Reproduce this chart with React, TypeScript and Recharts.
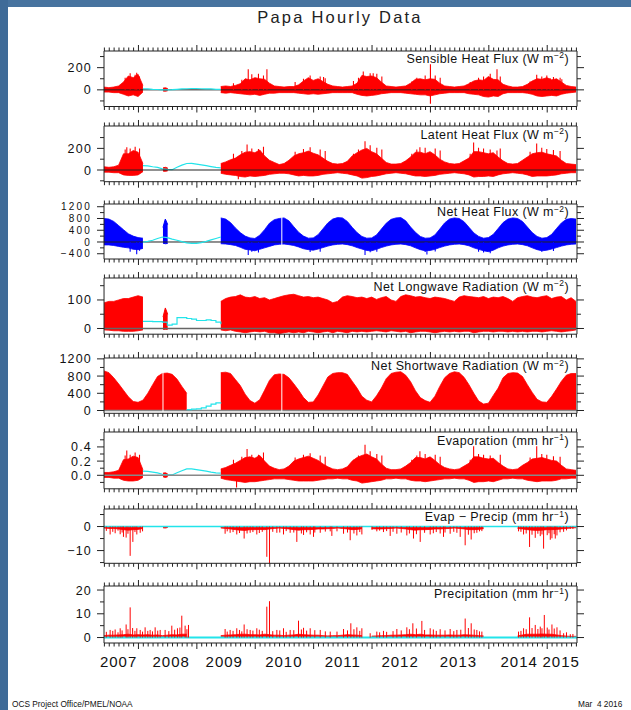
import React from 'react';
import { ComposedChart, Area, Line, XAxis, YAxis, ReferenceLine } from 'recharts';

const _ = null;

// one value per month, index 0 = June 2007
const START = 2007.41;
const END = 2015.51;
const FILL_FIRST = 8; // month index of the first cyan gap-fill value

const RED = '#ff0000';
const BLUE = '#0000ff';
const CYAN = '#22e4ea';
const INK = '#222';
const FONT = '"Liberation Sans", Arial, sans-serif';

const sensibleHi = [
  25, 20, 25, 35, 70, 125, 110,
  140, 40, _, _, _, _, _, _, _, _, _, _,
  _, _, _, _, _, 30, 35, 30, 40, 55, 100, 90,
  110, 100, 95, 60, 35, 30, 25, 30, 30, 45, 80, 110,
  85, 100, 75, 50, 35, 30, 25, 30, 35, 60, 130, 120,
  125, 110, 70, 35, 30, 25, 30, 35, 60, 95, 100, 90,
  100, 95, 60, 35, 30, 25, 30, 35, 55, 80, 90, 85,
  120, 95, 90, 50, 35, 25, 25, 30, 50, 80, 100, 95,
  110, 90, 100, 70, 40, 30, 25,
];
const sensibleLo = [
  -20, -20, -25, -25, -40, -55, -45,
  -60, -20, _, _, _, _, _, _, _, _, _, _,
  _, _, _, _, _, -25, -30, -25, -30, -35, -40, -45,
  -40, -50, -40, -30, -30, -25, -25, -25, -25, -30, -35, -40,
  -35, -40, -35, -30, -25, -25, -25, -25, -25, -40, -50, -55,
  -50, -45, -35, -30, -25, -25, -25, -30, -35, -40, -45, -45,
  -55, -45, -35, -30, -25, -25, -25, -25, -35, -40, -45, -60,
  -65, -55, -60, -35, -25, -25, -25, -25, -30, -40, -55, -60,
  -55, -50, -55, -40, -30, -25, -20,
];

const latentHi = [
  30, 25, 30, 45, 150, 150, 180,
  165, 60, _, _, _, _, _, _, _, _, _, _,
  _, _, _, _, _, 60, 75, 95, 110, 140, 165, 170,
  160, 185, 130, 90, 70, 50, 60, 90, 130, 150, 160, 175,
  155, 140, 110, 80, 60, 55, 60, 80, 130, 160, 185, 200,
  170, 150, 110, 70, 55, 55, 60, 85, 120, 165, 165, 150,
  170, 140, 100, 75, 60, 55, 60, 85, 110, 170, 170, 160,
  150, 160, 120, 85, 60, 55, 60, 90, 120, 150, 160, 165,
  150, 140, 130, 90, 60, 55, 50,
];
const latentLo = [
  -20, -20, -25, -25, -45, -50, -50,
  -45, -15, _, _, _, _, _, _, _, _, _, _,
  _, _, _, _, _, -30, -40, -45, -50, -60, -65, -55,
  -60, -55, -50, -40, -35, -30, -30, -35, -45, -55, -50, -55,
  -55, -50, -40, -35, -30, -25, -30, -35, -45, -55, -75, -70,
  -60, -55, -45, -35, -30, -25, -30, -35, -45, -55, -55, -60,
  -55, -50, -40, -35, -30, -25, -30, -35, -45, -65, -60, -60,
  -55, -60, -45, -35, -30, -25, -30, -35, -45, -60, -55, -55,
  -55, -50, -45, -35, -30, -25, -25,
];

const netHeatHi = [
  800, 780, 700, 560, 420, 280, 200,
  150, 130, _, _, _, _, _, _, _, _, _, _,
  _, _, _, _, _, 820, 780, 660, 480, 320, 200, 140,
  120, 230, 420, 640, 760, 800, 820, 720, 520, 330, 200, 130,
  140, 250, 450, 650, 780, 830, 820, 700, 500, 320, 190, 130,
  140, 240, 440, 640, 770, 820, 830, 720, 510, 330, 190, 130,
  140, 240, 440, 650, 780, 820, 800, 690, 500, 310, 190, 130,
  150, 260, 460, 660, 780, 820, 800, 700, 510, 320, 190, 130,
  150, 260, 460, 650, 770, 800, 780,
];
const netHeatLo = [
  -100, -100, -120, -150, -180, -200, -250,
  -260, -220, _, _, _, _, _, _, _, _, _, _,
  _, _, _, _, _, -60, -70, -90, -120, -180, -250, -270,
  -300, -250, -200, -150, -100, -80, -70, -90, -120, -170, -230, -260,
  -280, -240, -190, -140, -100, -80, -70, -90, -130, -190, -240, -290,
  -300, -250, -190, -140, -100, -80, -70, -90, -130, -200, -260, -300,
  -290, -250, -190, -140, -100, -80, -70, -90, -130, -200, -250, -300,
  -330, -280, -200, -140, -100, -80, -70, -90, -130, -200, -260, -300,
  -280, -240, -190, -140, -100, -80, -70,
];

const longwaveHi = [
  90, 95, 95, 100, 105, 105, 110,
  115, 110, _, _, _, _, _, _, _, _, _, _,
  _, _, _, _, _, 95, 105, 110, 112, 118, 110, 108,
  112, 105, 108, 100, 105, 110, 115, 118, 120, 115, 110, 112,
  108, 110, 105, 100, 90, 95, 110, 115, 112, 108, 110, 105,
  110, 102, 108, 112, 100, 95, 112, 118, 115, 110, 112, 108,
  105, 110, 108, 105, 100, 95, 110, 115, 112, 110, 108, 112,
  105, 110, 108, 112, 105, 95, 108, 112, 115, 110, 108, 112,
  115, 105, 110, 112, 100, 108, 95,
];
const longwaveLo = [
  -5, -6, -8, -8, -10, -10, -10,
  -8, -5, _, _, _, _, _, _, _, _, _, _,
  _, _, _, _, _, -5, -8, -5, -10, -12, -15, -12,
  -10, -12, -10, -15, -15, -18, -15, -12, -15, -12, -15, -10,
  -12, -15, -12, -10, -15, -10, -12, -15, -10, -12, -10, -12,
  -10, -8, -10, -12, -8, -10, -12, -10, -15, -12, -10, -10,
  -12, -15, -12, -10, -12, -10, -12, -10, -10, -15, -12, -10,
  -10, -12, -10, -10, -12, -10, -12, -10, -12, -10, -10, -12,
  -10, -8, -10, -12, -10, -8, -5,
];

const shortwaveHi = [
  920, 880, 760, 620, 470, 320, 210,
  190, 240, 400, 600, 790, 860, 870, 840, 730, 560, 400, _,
  _, _, _, _, _, 880, 890, 860, 720, 580, 380, 230,
  170, 250, 470, 700, 830, 850, 840, 760, 620, 470, 300, 190,
  200, 360, 570, 780, 860, 880, 880, 840, 680, 520, 330, 240,
  200, 340, 520, 740, 860, 890, 900, 820, 670, 460, 300, 230,
  190, 330, 560, 760, 860, 900, 880, 770, 600, 400, 220, 150,
  170, 350, 520, 760, 860, 880, 870, 790, 600, 420, 260, 200,
  190, 330, 500, 680, 820, 860, 860,
];

const evapHi = [
  0.04, 0.04, 0.05, 0.07, 0.22, 0.23, 0.27,
  0.25, 0.08, _, _, _, _, _, _, _, _, _, _,
  _, _, _, _, _, 0.09, 0.11, 0.14, 0.17, 0.21, 0.25, 0.26,
  0.24, 0.28, 0.2, 0.13, 0.1, 0.08, 0.09, 0.13, 0.2, 0.23, 0.25, 0.27,
  0.24, 0.21, 0.16, 0.12, 0.09, 0.08, 0.09, 0.12, 0.2, 0.25, 0.28, 0.3,
  0.26, 0.23, 0.16, 0.1, 0.08, 0.08, 0.09, 0.13, 0.18, 0.25, 0.25, 0.23,
  0.26, 0.21, 0.15, 0.11, 0.09, 0.08, 0.09, 0.13, 0.17, 0.26, 0.26, 0.24,
  0.23, 0.24, 0.18, 0.13, 0.09, 0.08, 0.09, 0.14, 0.18, 0.23, 0.24, 0.25,
  0.23, 0.21, 0.2, 0.14, 0.09, 0.08, 0.07,
];
const evapLo = [
  -0.03, -0.03, -0.04, -0.04, -0.07, -0.08, -0.08,
  -0.07, -0.03, _, _, _, _, _, _, _, _, _, _,
  _, _, _, _, _, -0.04, -0.06, -0.07, -0.08, -0.09, -0.1, -0.09,
  -0.09, -0.08, -0.07, -0.06, -0.05, -0.05, -0.05, -0.06, -0.07, -0.08, -0.08, -0.08,
  -0.08, -0.07, -0.06, -0.05, -0.05, -0.04, -0.05, -0.05, -0.07, -0.08, -0.11, -0.1,
  -0.09, -0.08, -0.07, -0.05, -0.05, -0.04, -0.05, -0.05, -0.07, -0.08, -0.08, -0.09,
  -0.08, -0.07, -0.06, -0.05, -0.05, -0.04, -0.05, -0.05, -0.07, -0.1, -0.09, -0.09,
  -0.08, -0.09, -0.07, -0.05, -0.05, -0.04, -0.05, -0.05, -0.07, -0.08, -0.09, -0.08,
  -0.08, -0.08, -0.07, -0.05, -0.05, -0.04, -0.04,
];

const evapPrecipLo = [
  -0.6, -0.8, -0.8, -1, -1.3, -1.5, -1.3,
  -1.2, -0.8, _, _, _, _, _, _, _, _, _, _,
  _, _, _, _, _, -0.6, -0.8, -1, -1.3, -1.5, -1.6, -1.3,
  -1.3, -1.2, -1.3, -1, -0.8, -0.6, -0.8, -1, -1.3, -1.5, -1.3, -1.3,
  -1.2, -1, -1, -0.9, -0.8, -0.6, -0.8, -1, -1.3, -1.2, -0.9, _,
  -0.9, -1, -1, -0.9, -0.8, -0.6, -0.8, -1, -1.3, -1.5, -1.3, -1.3,
  -1.2, -1, -1, -0.9, -0.8, -0.6, -0.8, -1, -1.3, -1.3, -1.2, -0.9,
  _, _, _, _, _, _, -0.8, -1, -1.3, -1.5, -1.6, -1.5,
  -1.3, -1.3, -1.2, -1, -0.8, -0.6, -0.5,
];

const precipHi = [
  0.8, 1, 1, 1.1, 1.2, 1.4, 1.1,
  1.2, 1.1, 1.2, 1, 1.1, 0.8, 1, 1.2, 1.1, 1.4, 1.4, _,
  _, _, _, _, _, 0.8, 1, 1.1, 1.2, 1.4, 1.4, 1.2,
  1.2, 1.1, 1.4, 1.2, 1, 1, 0.8, 1, 1.1, 1.4, 1.2, 1.1,
  1, 1, 0.8, 0.7, 0.8, 0.8, 1, 1.2, 1.1, 1, 0.8, _,
  0.6, 0.7, 0.8, 0.8, 1, 1, 1.1, 1.2, 1.4, 1.2, 1.4, 1.1,
  1.1, 1, 1, 1, 1.1, 1, 1, 1.2, 1.1, 1, 0.8, 0.7,
  _, _, _, _, _, _, 0.7, 1.1, 1.4, 1.4, 1.4, 1.5,
  1.4, 1.4, 1.1, 0.8, 0.6, 0.5, 0.5,
];

// cyan gap-fill curves, months FILL_FIRST .. 24
const sensibleFill = [10, 8, 5, 3, 0, 0, 2, 5, 8, 10, 12, 12, 10, 8, 8, 5, 5];
const latentFill = [40, 38, 30, 25, 10, 5, 3, 25, 45, 60, 62, 55, 48, 40, 32, 25, 20];
const netHeatFill = [-10, 20, 60, 120, 170, 150, 100, 60, 10, -30, -45, -45, -20, 20, 70, 120, 170];
const longwaveFill = [25, 25, 24, 24, 22, 12, 15, 38, 38, 35, 33, 28, 28, 30, 28, 22, 15];
const shortwaveFill = [_, _, _, _, _, _, _, _, _, 20, 30, 40, 60, 100, 150, 175, 185];
const evapFill = [0.06, 0.055, 0.045, 0.035, 0.015, 0.008, 0.005, 0.035, 0.065, 0.09, 0.09, 0.08, 0.07, 0.06, 0.045, 0.035, 0.03];

// short burst of data in mid 2008
const blipT = [2008.42, 2008.46, 2008.5];
const sensibleBlip = [[-10, 15], [-12, 18], [-8, 12]];
const latentBlip = [[-10, 20], [-12, 25], [-8, 18]];
const netHeatBlip = [[-40, 500], [-60, 780], [-50, 600]];
const longwaveBlip = [[-3, 40], [-3, 72], [-3, 50]];
const evapBlip = [[-0.02, 0.03], [-0.03, 0.035], [-0.02, 0.02]];
const evapPrecipBlip = [-0.5, -0.6, -0.4];

// isolated hourly extremes [time, value]
const sensibleSpikes = [
  [2007.772, 110], [2007.858, 150], [2007.943, 135], [2007.97, 155], [2008.018, 120],
  [2009.627, 60], [2009.77, 90], [2009.88, 185], [2009.941, 140], [2010.055, 145], [2010.141, 130], [2010.2, 185],
  [2010.683, 70], [2010.826, 100], [2010.94, 130], [2011.112, 120], [2011.17, 115], [2011.198, 105],
  [2011.682, 80], [2011.768, 110], [2011.85, 165], [2011.968, 150], [2012.02, 150], [2012.082, 145], [2012.168, 120],
  [2012.681, 75], [2012.767, 110], [2012.91, 130], [2013.0, 230], [2013.0, -125], [2013.082, 130], [2013.167, 110],
  [2013.681, 70], [2013.824, 110], [2013.91, 120], [2014.024, 145], [2014.14, 185], [2014.196, 120],
  [2014.707, 75], [2014.82, 135], [2014.907, 120], [2014.993, 130], [2015.05, 105], [2015.107, 115], [2015.221, 110],
  [2015.25, 95],
];
const latentSpikes = [
  [2007.772, 190], [2007.8, 210], [2007.858, 200], [2007.943, 215], [2008.018, 200],
  [2009.627, 150], [2009.71, -85], [2009.77, 175], [2009.86, 235], [2009.941, 200], [2010.055, 195], [2010.141, 215],
  [2010.683, 170], [2010.826, 195], [2010.94, 210], [2011.112, 190], [2011.198, 175],
  [2011.682, 150], [2011.768, 190], [2011.88, 265], [2011.968, 230], [2012.082, 205], [2012.168, 190],
  [2012.681, 150], [2012.767, 190], [2012.82, 210], [2012.91, 205], [2013.082, 200], [2013.167, 180],
  [2013.681, 150], [2013.74, 255], [2013.824, 205], [2013.91, 200], [2014.024, 190], [2014.14, 180], [2014.196, 200],
  [2014.707, 170], [2014.82, 245], [2014.907, 205], [2014.993, 195], [2015.107, 185], [2015.221, 175],
];
const netHeatSpikes = [
  [2007.858, -330], [2007.97, -420], [2008.018, -300], [2009.88, -440], [2009.941, -330], [2010.055, -360],
  [2010.94, -340], [2011.112, -330], [2011.88, -440], [2011.968, -350], [2012.082, -330], [2012.91, -340],
  [2012.94, -430], [2013.082, -320], [2013.824, -330], [2013.91, -360], [2014.024, -380], [2014.907, -330],
  [2015.107, -310],
];
const evapSpikes = [
  [2007.772, 0.28], [2007.8, 0.35], [2007.858, 0.29], [2007.943, 0.32], [2008.018, 0.29],
  [2009.627, 0.22], [2009.68, -0.17], [2009.77, 0.26], [2009.86, 0.37], [2009.941, 0.29], [2010.055, 0.29], [2010.141, 0.32],
  [2010.683, 0.25], [2010.826, 0.29], [2010.94, 0.31], [2011.112, 0.28], [2011.198, 0.26],
  [2011.682, 0.22], [2011.768, 0.28], [2011.88, 0.43], [2011.968, 0.34], [2012.082, 0.3], [2012.168, 0.28],
  [2012.681, 0.22], [2012.767, 0.28], [2012.82, 0.34], [2012.91, 0.3], [2013.082, 0.29], [2013.167, 0.26],
  [2013.681, 0.22], [2013.74, 0.41], [2013.824, 0.3], [2013.91, 0.29], [2014.024, 0.28], [2014.196, 0.29],
  [2014.707, 0.25], [2014.82, 0.41], [2014.907, 0.3], [2014.993, 0.29], [2015.107, 0.27], [2015.221, 0.26],
];
const evapPrecipSpikes = [
  [2007.45, -1.8], [2007.515, -3.3], [2007.56, -2.2], [2007.601, -2.8], [2007.65, -1.7], [2007.687, -3.2],
  [2007.72, -2.5], [2007.743, -4.3], [2007.789, -4.6], [2007.82, -3], [2007.858, -12.2], [2007.904, -6.4],
  [2007.94, -2.3], [2007.972, -3.3], [2008.03, -2.6], [2008.07, -2],
  [2009.484, -3], [2009.52, -2], [2009.57, -2.6], [2009.62, -2.3], [2009.684, -3.3], [2009.73, -2.7],
  [2009.81, -5], [2009.86, -2.9], [2009.913, -2.6], [2009.96, -2.3], [2010.027, -3.3], [2010.07, -2.7],
  [2010.12, -2.2], [2010.198, -12.6], [2010.244, -15.4], [2010.3, -2.2], [2010.37, -2.6], [2010.42, -2.5],
  [2010.484, -3.3], [2010.53, -1.9], [2010.598, -2.6], [2010.66, -2.5], [2010.712, -6.4], [2010.79, -2.9],
  [2010.827, -3.5], [2010.88, -2.4], [2010.941, -3.3], [2010.998, -4.3], [2011.02, -2.5], [2011.113, -2.6],
  [2011.2, -2.1], [2011.284, -2], [2011.312, -3.9], [2011.4, -2], [2011.512, -3], [2011.58, -2.5],
  [2011.626, -5.7], [2011.69, -2.9], [2011.74, -3.7], [2011.79, -2.3], [2011.826, -3.3],
  [2012.0, -1.4], [2012.082, -2], [2012.13, -1.7], [2012.196, -2.3], [2012.25, -1.9], [2012.311, -3.9],
  [2012.36, -2.2], [2012.425, -3], [2012.5, -2.5], [2012.596, -3.7], [2012.64, -2.9], [2012.71, -5],
  [2012.76, -3.2], [2012.825, -6.4], [2012.9, -2.6], [2012.996, -3.3], [2013.05, -2.8], [2013.1, -2.3],
  [2013.167, -2.9], [2013.224, -4.3], [2013.25, -2.5], [2013.338, -3], [2013.4, -2.2], [2013.453, -2.6],
  [2013.51, -4.3], [2013.595, -7.8], [2013.65, -3.4], [2013.698, -5.4], [2013.75, -2.8], [2013.795, -2.6],
  [2013.84, -2], [2013.881, -1.9],
  [2014.509, -2], [2014.55, -2.2], [2014.595, -3.3], [2014.64, -2.9], [2014.698, -8.5], [2014.74, -3.4],
  [2014.795, -4.7], [2014.84, -3], [2014.881, -4], [2014.91, -3.3], [2014.938, -9.2], [2015.0, -3.6],
  [2015.03, -2.8], [2015.053, -5.5], [2015.081, -4.9], [2015.12, -3.2], [2015.138, -5], [2015.167, -3.7],
  [2015.22, -2.4], [2015.281, -2.2], [2015.33, -1.6], [2015.395, -1], [2015.44, -1],
];
const precipSpikes = [
  [2007.45, 2.4], [2007.515, 3.2], [2007.56, 2.8], [2007.601, 3.4], [2007.65, 2.2], [2007.687, 3.9],
  [2007.72, 3], [2007.789, 5.5], [2007.82, 3.5], [2007.858, 12.7], [2007.9, 4], [2007.94, 2.8],
  [2007.972, 3.9], [2008.03, 3.2], [2008.07, 2.5], [2008.114, 4.3], [2008.16, 2.8], [2008.2, 3.2],
  [2008.24, 2.6], [2008.286, 4.3], [2008.33, 2.9], [2008.372, 3.2], [2008.457, 3.2], [2008.52, 2.7],
  [2008.571, 5], [2008.62, 3.3], [2008.668, 3.9], [2008.71, 4.2], [2008.742, 9.2], [2008.799, 5],
  [2008.83, 3.5], [2008.857, 5.3],
  [2009.484, 3.6], [2009.52, 2.5], [2009.57, 3.2], [2009.62, 2.8], [2009.684, 3.9], [2009.73, 3.2],
  [2009.77, 2.6], [2009.81, 5.5], [2009.86, 3.5], [2009.913, 3.2], [2009.96, 2.9], [2010.027, 3.9],
  [2010.07, 3.3], [2010.12, 2.8], [2010.198, 13], [2010.244, 15.3], [2010.3, 2.7], [2010.37, 3.2],
  [2010.42, 3], [2010.484, 3.9], [2010.53, 2.4], [2010.598, 3.2], [2010.66, 3.1], [2010.741, 7.1],
  [2010.79, 3.4], [2010.827, 4.1], [2010.88, 2.9], [2010.941, 3.9], [2011.02, 3.1], [2011.113, 3.2],
  [2011.2, 2.6], [2011.284, 2.5], [2011.4, 2.5], [2011.512, 3.6], [2011.58, 3], [2011.637, 6],
  [2011.69, 3.5], [2011.74, 4.3], [2011.79, 2.8], [2011.826, 3.9],
  [2011.968, 1.8], [2012.082, 2.5], [2012.13, 2.2], [2012.196, 2.8], [2012.25, 2.4], [2012.36, 2.7],
  [2012.425, 3.6], [2012.5, 3], [2012.596, 4.3], [2012.64, 3.5], [2012.699, 6], [2012.76, 3.8],
  [2012.853, 7], [2012.9, 3.2], [2012.996, 3.9], [2013.05, 3.4], [2013.1, 2.8], [2013.167, 3.5],
  [2013.25, 3], [2013.338, 3.6], [2013.4, 2.7], [2013.453, 3.2], [2013.52, 3.3], [2013.595, 8],
  [2013.65, 4], [2013.698, 6], [2013.75, 3.4], [2013.795, 3.2], [2013.84, 2.6], [2013.881, 2.5],
  [2014.509, 2.5], [2014.55, 2.8], [2014.595, 3.9], [2014.64, 3.5], [2014.698, 8.5], [2014.74, 4],
  [2014.795, 5.3], [2014.84, 3.6], [2014.881, 4.6], [2014.91, 3.9], [2014.95, 9.5], [2015.0, 4.2],
  [2015.03, 3.4], [2015.081, 5.5], [2015.12, 3.8], [2015.167, 4.3], [2015.22, 3], [2015.281, 1.8],
  [2015.33, 2.2], [2015.395, 1.4], [2015.44, 1.5],
];

const yearLabels = ['2007', '2008', '2009', '2010', '2011', '2012', '2013', '2014', '2015'];
const yearLabelAt = [2007.66, 2008.56, 2009.47, 2010.49, 2011.5, 2012.48, 2013.48, 2014.52, 2015.24];

const monthT = (i: number) => START + i / 12;
const pair = (lo: number | null, hi: number | null) => (lo == null || hi == null ? null : [lo, hi]);

const rows = sensibleHi.map((v, i) => ({
  t: monthT(i),
  sens: pair(sensibleLo[i], v),
  lat: pair(latentLo[i], latentHi[i]),
  net: pair(netHeatLo[i], netHeatHi[i]),
  lw: pair(longwaveLo[i], longwaveHi[i]),
  sw: shortwaveHi[i],
  evap: pair(evapLo[i], evapHi[i]),
  ep: evapPrecipLo[i],
  pr: precipHi[i],
}));

const blipRows = blipT.map((t, k) => ({
  t,
  sens: sensibleBlip[k],
  lat: latentBlip[k],
  net: netHeatBlip[k],
  lw: longwaveBlip[k],
  evap: evapBlip[k],
  ep: evapPrecipBlip[k],
}));

const fillRows = (vals: (number | null)[]) => vals.map((v, k) => ({ t: monthT(FILL_FIRST + k), v }));
const spikeRows = (list: number[][]) => list.flatMap(([t, v]) => [{ t, v: 0 }, { t, v }, { t, v: null }]);

const monthTicks: number[] = [];
for (let y = 2007; y <= 2015; y++) {
  for (let m = 0; m < 12; m++) {
    const v = y + m / 12;
    if (v >= START && v <= END) monthTicks.push(v);
  }
}

const XTick = (p: any) => {
  const yearTick = Math.abs(p.payload.value - Math.round(p.payload.value)) < 1e-6;
  const len = yearTick ? 6 : 3.5;
  return <line x1={p.x} x2={p.x} y1={p.y} y2={p.y + p.dir * len} stroke={INK} strokeWidth={1} />;
};

const YearTick = (p: any) => (
  <text x={p.x} y={p.y + 16} textAnchor="middle" fontFamily={FONT} fontSize={15} letterSpacing={1} fill="#111">
    {yearLabels[p.index]}
  </text>
);

const fmtTick = (v: number, decimals: number) => {
  const s = Math.abs(v).toFixed(decimals);
  return v < 0 ? '\u2212' + s : s;
};

const YTick = (p: any) => {
  const v = p.payload.value;
  const q = v / p.major;
  const major = Math.abs(q - Math.round(q)) < 1e-6;
  const len = major ? 7 : 4;
  return (
    <g>
      <line x1={p.x} x2={p.x + p.dir * len} y1={p.y} y2={p.y} stroke={INK} strokeWidth={1} />
      {p.dir < 0 && major && (
        <text
          x={p.x - 12} y={p.y} dy="0.36em" textAnchor="end" fontFamily={FONT}
          fontSize={p.small ? 10 : 12.5} letterSpacing={p.small ? 2.2 : 1.2} fill="#111"
        >
          {fmtTick(v, p.decimals)}
        </text>
      )}
    </g>
  );
};

interface PanelProps {
  top: number;
  bottom: number;
  domain: [number, number];
  ticks: number[];
  major: number;
  decimals?: number;
  small?: boolean;
  years?: boolean;
  children?: React.ReactNode;
}

const Panel = ({ top, bottom, domain, ticks, major, decimals = 0, small = false, years = false, children }: PanelProps) => {
  const h = bottom - top + 20 + (years ? 30 : 0);
  return (
    <div style={{ position: 'absolute', left: 0, top: top - 10 }}>
      <ComposedChart width={631} height={h} data={rows} margin={{ top: 2, right: 44, bottom: 2, left: 64 }}>
        <XAxis
          dataKey="t" type="number" domain={[START, END]} allowDataOverflow ticks={monthTicks} interval={0}
          tickSize={0} tickMargin={0} height={8} axisLine={{ stroke: INK }} tick={<XTick dir={1} />}
        />
        <XAxis
          xAxisId="top" orientation="top" dataKey="t" type="number" domain={[START, END]} allowDataOverflow
          ticks={monthTicks} interval={0} tickSize={0} tickMargin={0} height={8} axisLine={{ stroke: INK }}
          tick={<XTick dir={-1} />}
        />
        {years && (
          <XAxis
            xAxisId="years" dataKey="t" type="number" domain={[START, END]} allowDataOverflow ticks={yearLabelAt}
            interval={0} tickSize={0} tickMargin={0} height={30} axisLine={false} tick={<YearTick />}
          />
        )}
        <YAxis
          type="number" domain={domain} allowDataOverflow ticks={ticks} interval={0} tickSize={0} tickMargin={0}
          width={40} axisLine={{ stroke: INK }}
          tick={<YTick dir={-1} major={major} decimals={decimals} small={small} />}
        />
        <YAxis
          yAxisId="right" orientation="right" type="number" domain={domain} allowDataOverflow ticks={ticks}
          interval={0} tickSize={0} tickMargin={0} width={10} axisLine={{ stroke: INK }}
          tick={<YTick dir={1} major={major} decimals={decimals} />}
        />
        {children}
      </ComposedChart>
    </div>
  );
};

const band = (key: string, color: string) => (
  <Area dataKey={key} type="linear" stroke={color} strokeWidth={0.8} fill={color} fillOpacity={1} dot={false} activeDot={false} isAnimationActive={false} />
);
const blip = (key: string, color: string) => (
  <Area data={blipRows} dataKey={key} type="linear" stroke={color} strokeWidth={1} fill={color} fillOpacity={1} dot={false} activeDot={false} isAnimationActive={false} />
);
const fill = (vals: (number | null)[], step = false) => (
  <Line data={fillRows(vals)} dataKey="v" type={step ? 'stepAfter' : 'linear'} stroke={CYAN} strokeWidth={1.2} dot={false} activeDot={false} isAnimationActive={false} />
);
const spikes = (list: number[][], color: string, width = 1.1) => (
  <Line data={spikeRows(list)} dataKey="v" type="linear" stroke={color} strokeWidth={width} dot={false} activeDot={false} isAnimationActive={false} />
);

const labels = [
  { y: 62.5, name: 'Sensible Heat Flux', unit: 'W m', exp: '\u22122' },
  { y: 138.5, name: 'Latent Heat Flux', unit: 'W m', exp: '\u22122' },
  { y: 216, name: 'Net Heat Flux', unit: 'W m', exp: '\u22122' },
  { y: 290.5, name: 'Net Longwave Radiation', unit: 'W m', exp: '\u22122' },
  { y: 370, name: 'Net Shortwave Radiation', unit: 'W m', exp: '\u22122' },
  { y: 444.5, name: 'Evaporation', unit: 'mm hr', exp: '\u22121' },
  { y: 521, name: 'Evap \u2212 Precip', unit: 'mm hr', exp: '\u22121' },
  { y: 598, name: 'Precipitation', unit: 'mm hr', exp: '\u22121' },
];

export default function App() {
  return (
    <div style={{ position: 'relative', width: 631, height: 710, background: '#fff', overflow: 'hidden', fontFamily: FONT }}>
      <style>{'body{margin:0}'}</style>
      <div style={{ position: 'absolute', left: 0, top: 0, width: 631, height: 7, background: '#47739f' }} />
      <div style={{ position: 'absolute', left: 0, top: 0, width: 8, height: 710, background: '#3f6b98' }} />

      <Panel top={50.5} bottom={106} domain={[-150, 350]} ticks={[-100, 0, 100, 200, 300]} major={200}>
        <ReferenceLine y={0} stroke={INK} strokeWidth={1} />
        {fill(sensibleFill)}
        {band('sens', RED)}
        {blip('sens', RED)}
        {spikes(sensibleSpikes, RED)}
      </Panel>

      <Panel top={126} bottom={181.7} domain={[-108, 407]} ticks={[-100, 0, 100, 200, 300]} major={200}>
        {fill(latentFill)}
        {band('lat', RED)}
        {blip('lat', RED)}
        {spikes(latentSpikes, RED)}
        <ReferenceLine y={0} stroke={INK} strokeWidth={1} />
      </Panel>

      <Panel top={204} bottom={259} domain={[-579, 1293]} ticks={[-400, -200, 0, 200, 400, 600, 800, 1000, 1200]} major={400} small>
        <ReferenceLine y={0} stroke={INK} strokeWidth={1} />
        {fill(netHeatFill)}
        {band('net', BLUE)}
        {blip('net', BLUE)}
        {spikes(netHeatSpikes, BLUE)}
        <ReferenceLine x={2010.455} stroke="#fff" strokeWidth={1} />
      </Panel>

      <Panel top={278.3} bottom={334.5} domain={[-20, 177]} ticks={[0, 50, 100, 150]} major={100}>
        {fill(longwaveFill, true)}
        {band('lw', RED)}
        {blip('lw', RED)}
        <ReferenceLine y={0} stroke="#666" strokeWidth={1.5} />
      </Panel>

      <Panel top={358} bottom={413.3} domain={[-65, 1220]} ticks={[0, 200, 400, 600, 800, 1000, 1200]} major={400}>
        <ReferenceLine y={0} stroke="#888" strokeWidth={1.5} />
        {fill(shortwaveFill, true)}
        {band('sw', RED)}
        <ReferenceLine x={2008.42} stroke="#fff" strokeWidth={1} />
        <ReferenceLine x={2010.455} stroke="#fff" strokeWidth={1} />
      </Panel>

      <Panel top={432.2} bottom={489} domain={[-0.19, 0.61]} ticks={[-0.1, 0, 0.1, 0.2, 0.3, 0.4, 0.5]} major={0.2} decimals={1}>
        {fill(evapFill)}
        {band('evap', RED)}
        {blip('evap', RED)}
        {spikes(evapSpikes, RED)}
        <ReferenceLine y={0} stroke="#888" strokeWidth={1.5} />
      </Panel>

      <Panel top={508.7} bottom={563} domain={[-15.3, 7.3]} ticks={[-15, -10, -5, 0, 5]} major={10}>
        <ReferenceLine y={0} stroke={CYAN} strokeWidth={1.5} />
        {band('ep', RED)}
        {blip('ep', RED)}
        {spikes(evapPrecipSpikes, RED, 1)}
      </Panel>

      <Panel top={586} bottom={643} domain={[-2.3, 21.7]} ticks={[0, 5, 10, 15, 20]} major={10} years>
        <ReferenceLine y={0} stroke={CYAN} strokeWidth={2} />
        {band('pr', RED)}
        {spikes(precipSpikes, RED, 1)}
      </Panel>

      <svg width={631} height={710} style={{ position: 'absolute', left: 0, top: 0, pointerEvents: 'none' }}>
        <text x={340} y={22.5} textAnchor="middle" fontFamily={FONT} fontSize={16.5} letterSpacing={2.2} fill="#222">
          Papa Hourly Data
        </text>
        {labels.map((l) => (
          <text key={l.name} x={569} y={l.y} textAnchor="end" fontFamily={FONT} fontSize={12.5} letterSpacing={0.4} fill="#111">
            {l.name} ({l.unit}
            <tspan dy={-4.5} fontSize={8.5}>{l.exp}</tspan>
            <tspan dy={4.5}>)</tspan>
          </text>
        ))}
        <text x={12} y={707} fontFamily={FONT} fontSize={8.3} fill="#111">OCS Project Office/PMEL/NOAA</text>
        <text x={578} y={707} fontFamily={FONT} fontSize={8.3} fill="#111" style={{ whiteSpace: 'pre' }}>Mar  4 2016</text>
      </svg>
    </div>
  );
}
